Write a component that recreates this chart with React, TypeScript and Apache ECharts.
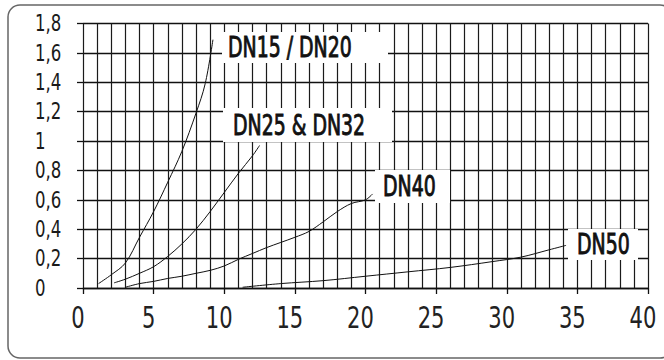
import React, { useEffect, useRef } from "react";
import * as echarts from "echarts";

const xTicks = [0, 5, 10, 15, 20, 25, 30, 35, 40];
const yTicks = [0, 0.2, 0.4, 0.6, 0.8, 1, 1.2, 1.4, 1.6, 1.8];

const seriesNames = ["DN15 / DN20", "DN25 & DN32", "DN40", "DN50"];

const dn15: number[][] = [
  [1.1, 0.03], [2, 0.09], [3, 0.17], [4, 0.345], [5, 0.52], [6, 0.72],
  [7, 0.93], [8, 1.19], [8.65, 1.39], [9.2, 1.69],
];
const dn25: number[][] = [
  [2.2, 0.035], [3, 0.06], [4, 0.1], [5, 0.145], [6, 0.215], [7, 0.3],
  [8, 0.4], [9, 0.52], [10, 0.65], [11, 0.78], [12, 0.9], [12.5, 0.97],
];
const dn40: number[][] = [
  [3, 0.005], [4, 0.03], [5, 0.045], [6, 0.065], [7, 0.08], [8, 0.1],
  [9, 0.12], [10, 0.15], [11, 0.195], [12, 0.235], [13, 0.275], [14, 0.31],
  [15, 0.345], [16, 0.385], [17, 0.45], [18, 0.52], [19, 0.575], [20, 0.6],
  [20.5, 0.64],
];
const dn50: number[][] = [
  [11.3, 0.005], [14, 0.03], [17, 0.05], [20, 0.08], [23, 0.11],
  [26, 0.14], [29, 0.18], [31, 0.21], [33, 0.26], [34.2, 0.29],
];
const seriesData = [dn15, dn25, dn40, dn50];

const FONT = "'DejaVu Sans Condensed', 'DejaVu Sans', sans-serif";
const fmtY = (v: number) => String(Math.round(v * 10) / 10).replace(".", ",");

export default function App() {
  const ref = useRef<HTMLDivElement>(null);
  useEffect(() => {
    if (!ref.current) return;
    const chart = echarts.init(ref.current, undefined, { renderer: "svg" });
    chart.setOption({
      animation: false,
      backgroundColor: "#fff",
      grid: { left: 83, right: 16, top: 23.5, bottom: 72 },
      xAxis: {
        type: "value",
        min: 0,
        max: 40,
        interval: 5,
        axisLine: { show: true, lineStyle: { color: "#111", width: 1.3 } },
        axisTick: { show: true, length: 6, lineStyle: { color: "#111", width: 1.3 } },
        axisLabel: { show: false },
        splitLine: { show: true, lineStyle: { color: "#1a1a1a", width: 1.2 } },
        minorTick: { show: false, splitNumber: 5 },
        minorSplitLine: { show: true, lineStyle: { color: "#1a1a1a", width: 1.2 } },
      },
      yAxis: {
        type: "value",
        min: 0,
        max: 1.8,
        interval: 0.2,
        axisLine: { show: false },
        axisTick: { show: true, length: 6, lineStyle: { color: "#111", width: 1.3 } },
        axisLabel: { show: false },
        splitLine: { show: true, lineStyle: { color: "#111", width: 1.3 } },
      },
      series: seriesData.map((d, i) => ({
        name: seriesNames[i],
        type: "line",
        data: d,
        smooth: 0.35,
        showSymbol: false,
        symbol: "none",
        lineStyle: { color: "#111", width: 1 },
        z: 5,
      })),
    });

    const xLabels = xTicks.map((v) => {
      const [px] = chart.convertToPixel({ gridIndex: 0 }, [v, 0]) as number[];
      return {
        type: "text",
        x: px - 5,
        y: 317,
        scaleX: 0.78,
        z: 100,
        style: {
          text: String(v),
          fill: "#222",
          font: `30px ${FONT}`,
          align: "center",
          verticalAlign: "middle",
        },
      };
    });
    const yLabels = yTicks.map((v) => {
      const [, py] = chart.convertToPixel({ gridIndex: 0 }, [0, v]) as number[];
      return {
        type: "text",
        x: 35,
        y: py,
        scaleX: 0.8,
        z: 100,
        style: {
          text: fmtY(v),
          fill: "#1a1a1a",
          font: `23px ${FONT}`,
          align: "left",
          verticalAlign: "middle",
        },
      };
    });
    const labelBox = (
      x: number, y: number, w: number, h: number, text: string, tx: number
    ) => ({
      type: "group",
      z: 100,
      children: [
        { type: "rect", shape: { x, y, width: w, height: h }, style: { fill: "#fff" }, z: 100 },
        {
          type: "text",
          x: tx,
          y: y + h / 2,
          scaleX: 0.75,
          z: 101,
          style: {
            text,
            fill: "#111",
            stroke: "#111",
            lineWidth: 0.9,
            font: `28px ${FONT}`,
            verticalAlign: "middle",
            align: "left",
          },
        },
      ],
    });
    chart.setOption({
      graphic: [
        {
          type: "rect",
          z: 200,
          shape: { x: 8, y: 5, width: 664, height: 353, r: 12 },
          style: { fill: "none", stroke: "#666", lineWidth: 1.5 },
        },
        ...xLabels,
        ...yLabels,
        labelBox(222, 32, 166, 31, seriesNames[0], 228),
        labelBox(223, 108, 169, 34, seriesNames[1], 233),
        labelBox(375, 170, 75, 33, seriesNames[2], 383),
        labelBox(568, 229, 70, 31, seriesNames[3], 577),
      ],
    });
    return () => chart.dispose();
  }, []);
  return (
    <div
      ref={ref}
      style={{ position: "fixed", left: 0, top: 0, width: 664, height: 360, background: "#fff" }}
    />
  );
}
